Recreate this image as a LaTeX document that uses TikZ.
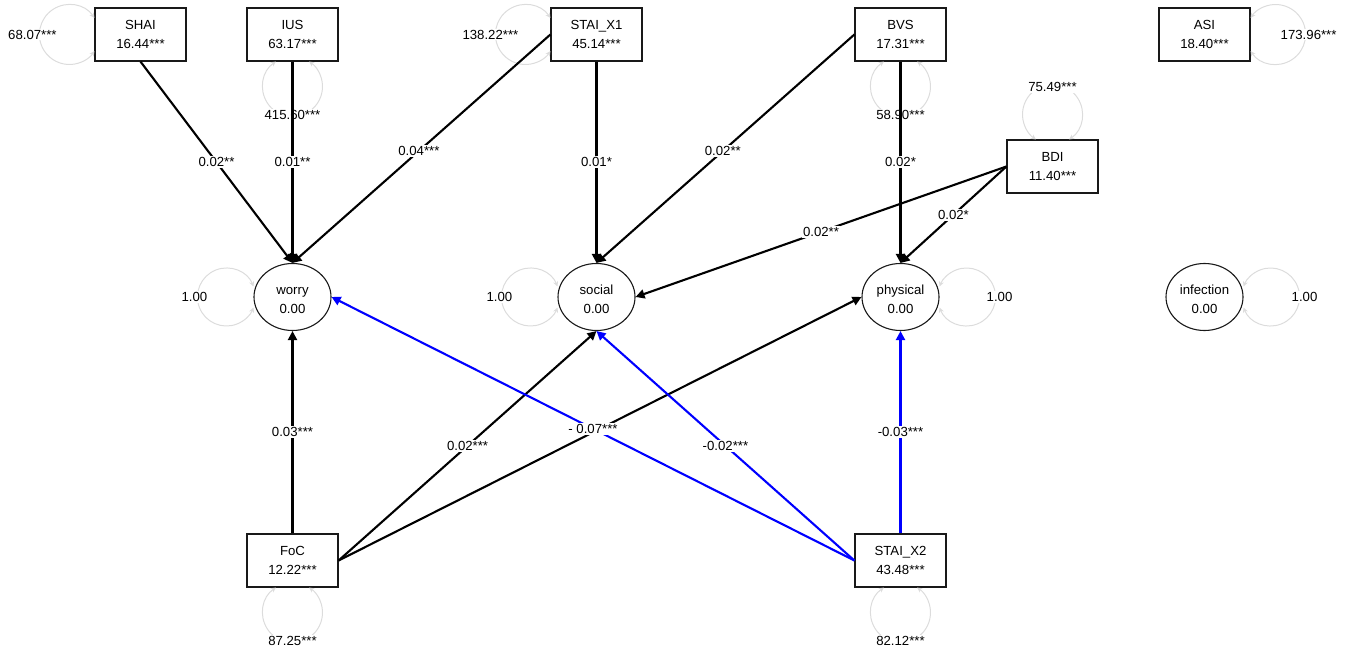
\documentclass[tikz,border=0pt]{standalone}
\usepackage{fontspec}
\setmainfont{Liberation Sans}
\usetikzlibrary{arrows.meta,shapes.geometric}
\definecolor{loopgray}{RGB}{220,220,220}
\definecolor{edgeblue}{RGB}{0,0,255}
\begin{document}
\begin{tikzpicture}[x=1pt,y=1pt,
  every node/.style={font=\fontsize{13.2}{19.5}\selectfont},
  obs/.style={draw=black!90, line width=1.2pt, fill=white, minimum width=91pt, minimum height=53pt, inner sep=0pt, align=center},
  lat/.style={ellipse, draw=black!90, line width=1.1pt, fill=white, minimum width=77pt, minimum height=67pt, inner sep=0pt, align=center},
  var/.style={draw=loopgray, line width=1pt, {Stealth[length=5pt,width=5pt]}-{Stealth[length=5pt,width=5pt]}},
  varlab/.style={fill=white, inner sep=1pt},
  regpath/.style={line width=2.1pt, -{Triangle[length=9pt,width=9pt]}},
  negpath/.style={regpath, draw=edgeblue},
  elab/.style={fill=white, inner sep=1.5pt}]
\path[use as bounding box] (0,0) rectangle (1351,-652);
% nodes
\node[obs] (SHAI) at (140.5,-34.5) {SHAI\\16.44***};
\node[obs] (IUS) at (292.5,-34.5) {IUS\\63.17***};
\node[obs] (STAIX1) at (596.5,-34.5) {STAI\_X1\\45.14***};
\node[obs] (BVS) at (900.5,-34.5) {BVS\\17.31***};
\node[obs] (ASI) at (1204.5,-34.5) {ASI\\18.40***};
\node[obs] (BDI) at (1052.5,-166.5) {BDI\\11.40***};
\node[lat] (worry) at (292.5,-297) {\strut worry\\0.00};
\node[lat] (social) at (596.5,-297) {\strut social\\0.00};
\node[lat] (physical) at (900.5,-297) {\strut physical\\0.00};
\node[lat] (infection) at (1204.5,-297) {\strut infection\\0.00};
\node[obs] (FoC) at (292.5,-560.5) {FoC\\12.22***};
\node[obs] (STAIX2) at (900.5,-560.5) {STAI\_X2\\43.48***};
% variance loops
\draw[var] ([yshift=16.58pt]SHAI.west) arc[start angle=33.56, end angle=326.44, radius=30pt];
\node[varlab] (vSHAI) at ([xshift=-62pt]SHAI.west) {68.07***};
\draw[var] ([xshift=-16.58pt]IUS.south) arc[start angle=123.56, end angle=416.44, radius=30pt];
\node[varlab] (vIUS) at ([yshift=-53pt]IUS.south) {415.60***};
\draw[var] ([yshift=16.58pt]STAIX1.west) arc[start angle=33.56, end angle=326.44, radius=30pt];
\node[varlab] (vSTAIX1) at ([xshift=-60pt]STAIX1.west) {138.22***};
\draw[var] ([xshift=-16.58pt]BVS.south) arc[start angle=123.56, end angle=416.44, radius=30pt];
\node[varlab] (vBVS) at ([yshift=-53pt]BVS.south) {58.90***};
\draw[var] ([yshift=-16.58pt]ASI.east) arc[start angle=213.56, end angle=506.44, radius=30pt];
\node[varlab] (vASI) at ([xshift=58pt]ASI.east) {173.96***};
\draw[var] ([xshift=16.58pt]BDI.north) arc[start angle=303.56, end angle=596.44, radius=30pt];
\node[varlab] (vBDI) at ([yshift=52pt]BDI.north) {75.49***};
\draw[var] ([xshift=-16.58pt]FoC.south) arc[start angle=123.56, end angle=416.44, radius=30pt];
\node[varlab] (vFoC) at ([yshift=-53pt]FoC.south) {87.25***};
\draw[var] ([xshift=-16.58pt]STAIX2.south) arc[start angle=123.56, end angle=416.44, radius=30pt];
\node[varlab] (vSTAIX2) at ([yshift=-53pt]STAIX2.south) {82.12***};
\draw[var] ([yshift=10.58pt]worry.west) arc[start angle=21.4, end angle=338.6, radius=29pt];
\node[varlab] (vworry) at ([xshift=-59pt]worry.west) {1.00};
\draw[var] ([yshift=10.58pt]social.west) arc[start angle=21.4, end angle=338.6, radius=29pt];
\node[varlab] (vsocial) at ([xshift=-58pt]social.west) {1.00};
\draw[var] ([yshift=-10.58pt]physical.east) arc[start angle=201.4, end angle=518.6, radius=29pt];
\node[varlab] (vphysical) at ([xshift=60pt]physical.east) {1.00};
\draw[var] ([yshift=-10.58pt]infection.east) arc[start angle=201.4, end angle=518.6, radius=29pt];
\node[varlab] (vinfection) at ([xshift=61pt]infection.east) {1.00};
% regressions
\draw[regpath] (SHAI.south) -- node[elab, pos=0.5] {0.02**} (worry.north);
\draw[regpath] (IUS.south) -- node[elab, pos=0.5] {0.01**} (worry.north);
\draw[regpath] (STAIX1.west) -- node[elab, pos=0.51] {0.04***} (worry.north);
\draw[regpath] (STAIX1.south) -- node[elab, pos=0.5] {0.01*} (social.north);
\draw[regpath] (BVS.west) -- node[elab, pos=0.51] {0.02**} (social.north);
\draw[regpath] (BVS.south) -- node[elab, pos=0.5] {0.02*} (physical.north);
\draw[regpath] (BDI.west) -- node[elab, pos=0.5] {0.02**} (social.east);
\draw[regpath] (BDI.west) -- node[elab, pos=0.5] {0.02*} (physical.north);
\draw[regpath] (FoC.north) -- node[elab, pos=0.5] {0.03***} (worry.south);
\draw[regpath] (FoC.east) -- node[elab, pos=0.5] {0.02***} (social.south);
\draw[regpath] (FoC.east) -- (physical.west);
\draw[negpath] (STAIX2.west) -- node[elab, pos=0.5] {- 0.07***} (worry.east);
\draw[negpath] (STAIX2.west) -- node[elab, pos=0.5] {-0.02***} (social.south);
\draw[negpath] (STAIX2.north) -- node[elab, pos=0.5] {-0.03***} (physical.south);
\end{tikzpicture}
\end{document}
